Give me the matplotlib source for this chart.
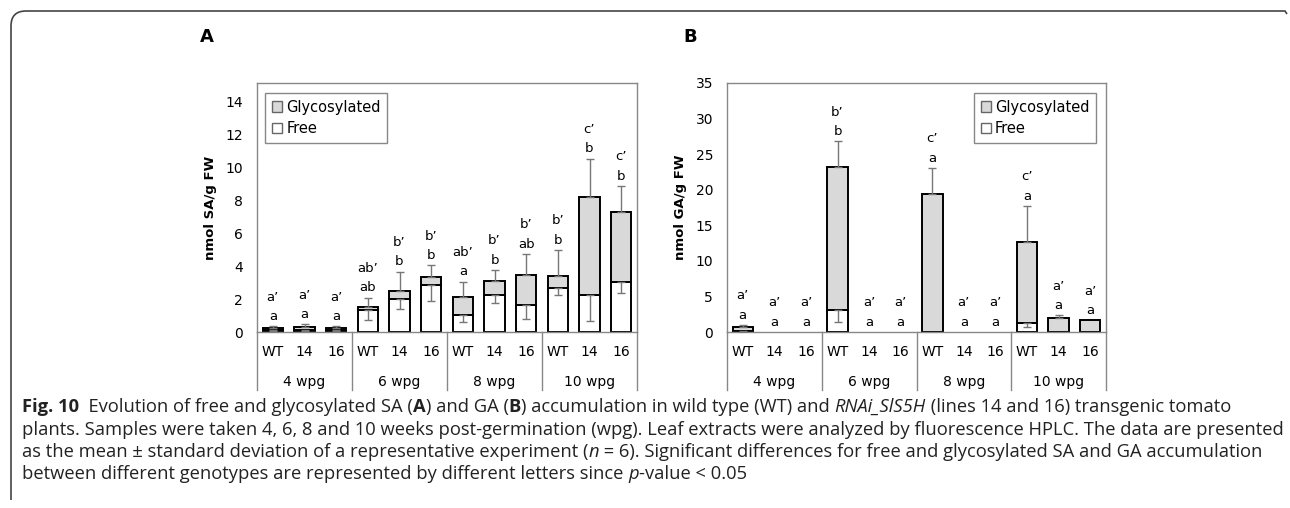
import numpy as np
import matplotlib
matplotlib.use("Agg")
import matplotlib.pyplot as plt
from matplotlib.patches import Patch, PathPatch
from matplotlib.path import Path
from matplotlib import font_manager

# ---- data ----
groups = ["4 wpg", "6 wpg", "8 wpg", "10 wpg"]
lines = ["WT", "14", "16"]

# SA (panel A), nmol/g FW
sa_free = np.array([0.10, 0.12, 0.10, 1.31, 1.98, 2.85, 1.05, 2.26, 1.64, 2.69, 2.24, 3.03])
sa_glyc = np.array([0.15, 0.20, 0.14, 0.23, 0.53, 0.46, 1.07, 0.83, 1.79, 0.70, 5.92, 4.22])
sa_free_sd = np.array([0.05, 0.06, 0.05, 0.56, 0.57, 0.99, 0.44, 0.48, 0.83, 0.45, 1.55, 0.65])
sa_glyc_sd = np.array([0.10, 0.14, 0.10, 0.54, 1.15, 0.73, 0.93, 0.67, 1.30, 1.58, 2.36, 1.60])
sa_let = ["a", "a", "a", "ab", "b", "b", "a", "b", "ab", "b", "b", "b"]
sa_let2 = ["a’", "a’", "a’", "ab’", "b’", "b’", "ab’", "b’", "b’", "b’", "c’", "c’"]

# GA (panel B), nmol/g FW
ga_free = np.array([0.10, 0, 0, 3.06, 0, 0, 0, 0, 0, 1.32, 0, 0])
ga_glyc = np.array([0.61, 0, 0, 20.11, 0, 0, 19.41, 0, 0, 11.30, 1.93, 1.65])
ga_free_sd = np.array([0.05, 0, 0, 1.65, 0, 0, 0, 0, 0, 0.61, 0, 0])
ga_glyc_sd = np.array([0.28, 0, 0, 3.63, 0, 0, 3.62, 0, 0, 5.09, 0.43, 0])
ga_let = ["a", "a", "a", "b", "a", "a", "a", "a", "a", "a", "a", "a"]
ga_let2 = ["a’", "a’", "a’", "b’", "a’", "a’", "c’", "a’", "a’", "c’", "a’", "a’"]

W, H = 1290, 508
plt.rcParams["font.family"] = "DejaVu Sans"
fig = plt.figure(figsize=(W / 100, H / 100), dpi=100)

GRID = "#888888"
GLYC = "#d9d9d9"


def add_ax(left, top, right, bottom):
    return fig.add_axes([left / W, 1 - bottom / H, (right - left) / W, (bottom - top) / H])


def panel(ax, free, glyc, free_sd, glyc_sd, let, let2, ymax, step, ylabel, legloc, anchor):
    x = np.arange(len(free))
    total = free + glyc
    m = free > 0
    ax.bar(x[m], free[m], width=0.65, color="white", edgecolor="black", lw=1.4, zorder=2)
    m = glyc > 0
    ax.bar(x[m], glyc[m], bottom=free[m], width=0.65, color=GLYC, edgecolor="black", lw=1.4, zorder=2)
    m = free_sd > 0
    ax.errorbar(x[m], free[m], yerr=[free_sd[m], np.zeros(m.sum())], fmt="none",
                ecolor="#777777", elinewidth=1, capsize=3, capthick=1, zorder=3)
    m = glyc_sd > 0
    ax.errorbar(x[m], total[m], yerr=[np.zeros(m.sum()), glyc_sd[m]], fmt="none",
                ecolor="#777777", elinewidth=1, capsize=3, capthick=1, zorder=3)

    top = total + glyc_sd
    for i in range(len(x)):
        ax.annotate(let[i], (x[i], top[i]), xytext=(0, 7), textcoords="offset points",
                    ha="center", va="center", fontsize=9.5)
        ax.annotate(let2[i], (x[i], top[i]), xytext=(0, 21), textcoords="offset points",
                    ha="center", va="center", fontsize=9.5)

    ax.set_xlim(-0.5, len(x) - 0.5)
    ax.set_ylim(0, ymax)
    ax.set_yticks(np.arange(0, ymax + 0.01, step)[: int(ymax // step) + 1])
    ax.set_xticks(x)
    ax.set_xticklabels(lines * len(groups), fontsize=10)
    ax.tick_params(axis="both", length=0, labelsize=10)
    ax.tick_params(axis="y", pad=10)
    ax.tick_params(axis="x", pad=9)
    for s in ax.spines.values():
        s.set_color(GRID)
        s.set_linewidth(1)
    ax.set_ylabel(ylabel, fontsize=9.5, fontweight="bold", labelpad=6)

    # grouped category axis
    tr = ax.get_xaxis_transform()
    axh = ax.get_position().height * H
    for b in np.arange(-0.5, len(x), 3):
        ax.plot([b, b], [0, -58 / axh], color=GRID, lw=1, transform=tr, clip_on=False)
    for g, name in enumerate(groups):
        ax.text(3 * g + 1, -50 / axh, name, transform=tr, ha="center", va="center", fontsize=10)

    handles = [Patch(facecolor=GLYC, edgecolor="#666666", label="Glycosylated"),
               Patch(facecolor="white", edgecolor="#666666", label="Free")]
    leg = ax.legend(handles=handles, loc=legloc, bbox_to_anchor=anchor, fontsize=10.5,
                    handlelength=0.75, handleheight=0.75, handletextpad=0.25,
                    labelspacing=0.45, borderpad=0.45, fancybox=False, framealpha=1,
                    edgecolor=GRID, borderaxespad=0)
    leg.get_frame().set_linewidth(1)


axA = add_ax(257, 83, 637, 332)
axB = add_ax(727, 83, 1106, 332)
panel(axA, sa_free, sa_glyc, sa_free_sd, sa_glyc_sd, sa_let, sa_let2, 15.1, 2,
      "nmol SA/g FW", "upper left", (0.021, 0.96))
panel(axB, ga_free, ga_glyc, ga_free_sd, ga_glyc_sd, ga_let, ga_let2, 35, 5,
      "nmol GA/g FW", "upper right", (0.974, 0.96))

fig.text(207 / W, 1 - 37 / H, "A", fontsize=13, fontweight="bold", ha="center", va="center")
fig.text(690 / W, 1 - 37 / H, "B", fontsize=13, fontweight="bold", ha="center", va="center")

# outer frame (top + left with rounded corner)
fr = [(11, 500), (11, 26), (11, 11), (26, 11), (1285, 11), (1287, 14)]
verts = [(px / W, 1 - py / H) for px, py in fr]
codes = [Path.MOVETO, Path.LINETO, Path.CURVE3, Path.CURVE3, Path.LINETO, Path.LINETO]
fig.add_artist(PathPatch(Path(verts, codes), fill=False, ec="#444444", lw=1.2,
                         transform=fig.transFigure))

# ---- caption ----
names = {f.name for f in font_manager.fontManager.ttflist}
cap_font = next((n for n in ["Open Sans", "Noto Sans", "Liberation Sans"] if n in names), "DejaVu Sans")

caption = [
    [("Fig. 10", "bold", "normal"), ("  Evolution of free and glycosylated SA (", "normal", "normal"),
     ("A", "bold", "normal"), (") and GA (", "normal", "normal"), ("B", "bold", "normal"),
     (") accumulation in wild type (WT) and ", "normal", "normal"), ("RNAi_SlS5H", "normal", "italic"),
     (" (lines 14 and 16) transgenic tomato", "normal", "normal")],
    [("plants. Samples were taken 4, 6, 8 and 10 weeks post-germination (wpg). Leaf extracts were "
      "analyzed by fluorescence HPLC. The data are presented", "normal", "normal")],
    [("as the mean ± standard deviation of a representative experiment (", "normal", "normal"),
     ("n", "normal", "italic"),
     (" = 6). Significant differences for free and glycosylated SA and GA accumulation", "normal", "normal")],
    [("between different genotypes are represented by different letters since ", "normal", "normal"),
     ("p", "normal", "italic"), ("-value < 0.05", "normal", "normal")],
]
line_y = [407, 430, 452, 474]

renderer = fig.canvas.get_renderer()


def seg_width(s, weight, style, size):
    t1 = fig.text(0, 0, "|" + s + "|", family=cap_font, fontsize=size, fontweight=weight, fontstyle=style)
    t2 = fig.text(0, 0, "||", family=cap_font, fontsize=size, fontweight=weight, fontstyle=style)
    w = t1.get_window_extent(renderer).width - t2.get_window_extent(renderer).width
    t1.remove()
    t2.remove()
    return w


# fit the longest line to its width in the reference
size = 10.0
w2 = seg_width(caption[1][0][0], "normal", "normal", size)
size = min(14.0, size * 1260 / w2)

for segs, y in zip(caption, line_y):
    xp = 22.0
    for s, weight, style in segs:
        fig.text(xp / W, 1 - y / H, s, family=cap_font, fontsize=size, fontweight=weight,
                 fontstyle=style, ha="left", va="center", color="#222222")
        xp += seg_width(s, weight, style, size)

fig.savefig("out.png", dpi=100)
